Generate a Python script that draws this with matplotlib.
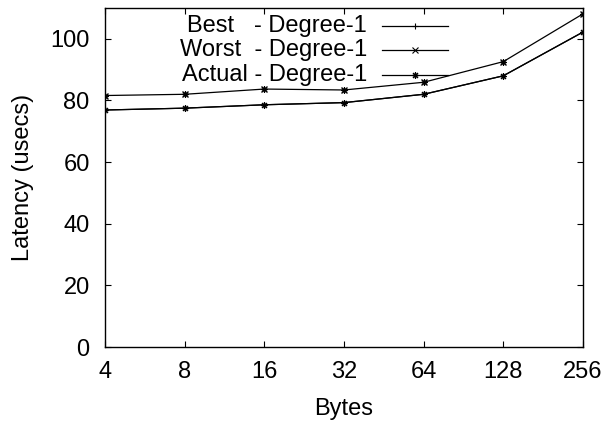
import matplotlib
matplotlib.use("Agg")
import matplotlib.pyplot as plt
from matplotlib.lines import Line2D

plt.rcParams['font.family'] = ['Liberation Sans', 'DejaVu Sans']

bytes_labels = ['4', '8', '16', '32', '64', '128', '256']
best = [76.9, 77.5, 78.6, 79.3, 82.0, 88.0, 102.2]
worst = [81.6, 82.0, 83.7, 83.4, 85.9, 92.6, 108.1]
actual = [76.9, 77.5, 78.6, 79.3, 82.0, 88.0, 102.2]
series_names = ['Best   - Degree-1', 'Worst  - Degree-1', 'Actual - Degree-1']

x = list(range(len(bytes_labels)))
fs = 17

fig = plt.figure(figsize=(6.07, 4.23), dpi=100)
ax = fig.add_axes([105 / 607, 1 - 347 / 423, 478 / 607, 339 / 423])

ms = 5
ax.plot(x, best, color='black', lw=0.9, marker='+', ms=ms, mew=0.8)
ax.plot(x, worst, color='black', lw=0.9, marker='x', ms=ms * 0.8, mew=0.8)
ax.plot(x, actual, color='black', lw=0.9, marker=(8, 2, 0), ms=ms, mew=0.8)
ax.plot(x, worst, color='black', lw=0, marker=(8, 2, 0), ms=ms, mew=0.8)

ax.set_xlim(0, len(x) - 1)
ax.set_ylim(0, 110)
ax.set_xticks(x)
ax.set_xticklabels(bytes_labels)
ax.set_yticks([0, 20, 40, 60, 80, 100])
ax.tick_params(direction='in', length=4.5, width=0.8, labelsize=fs,
               top=True, right=True)
ax.tick_params(axis='x', pad=10)
ax.tick_params(axis='y', pad=11)
for s in ax.spines.values():
    s.set_linewidth(1.0)

ax.set_xlabel('Bytes', fontsize=fs, labelpad=11)
ax.set_ylabel('Latency (usecs)', fontsize=fs, labelpad=12)

# gnuplot-style key: right-aligned text, sample line to the right
markers = ['+', 'x', (8, 2, 0)]
rows_y = [0.947, 0.876, 0.802]
for name, mk, yy in zip(series_names, markers, rows_y):
    ax.text(0.548, yy, name, transform=ax.transAxes, ha='right', va='center',
            fontsize=fs)
    ax.add_line(Line2D([0.579, 0.718], [yy, yy], transform=ax.transAxes,
                       color='black', lw=0.9))
    ax.add_line(Line2D([0.649], [yy], transform=ax.transAxes, color='black',
                       lw=0, marker=mk, ms=ms if mk != 'x' else ms * 0.8,
                       mew=0.8))

fig.savefig('out.png', dpi=100)
